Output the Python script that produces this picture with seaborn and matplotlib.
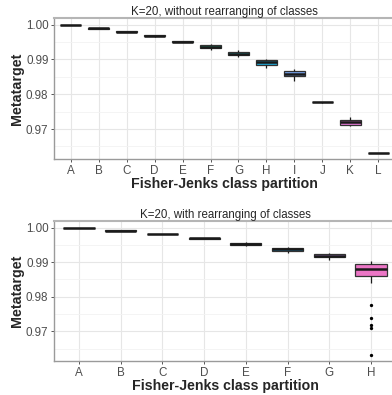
import numpy as np
import pandas as pd
import matplotlib
matplotlib.use("Agg")
import matplotlib.pyplot as plt
import seaborn as sns

# ---------------- data ----------------
top_classes = list("ABCDEFGHIJKL")
top_low    = [0.99977, 0.99880, 0.99788, 0.99652, 0.99488, 0.99260, 0.99075, 0.98760, 0.98370, 0.97762, 0.97075, 0.96319]
top_q1     = [0.99979, 0.99885, 0.99794, 0.99668, 0.99502, 0.99320, 0.99115, 0.98835, 0.98520, 0.97764, 0.97125, 0.96321]
top_median = [0.99981, 0.99890, 0.99800, 0.99680, 0.99515, 0.99365, 0.99170, 0.98920, 0.98590, 0.97765, 0.97200, 0.96322]
top_q3     = [0.99983, 0.99894, 0.99806, 0.99690, 0.99528, 0.99405, 0.99218, 0.98985, 0.98660, 0.97766, 0.97270, 0.96323]
top_high   = [0.99985, 0.99898, 0.99812, 0.99705, 0.99543, 0.99440, 0.99258, 0.99020, 0.98735, 0.97768, 0.97350, 0.96325]
top_palette = ["#F8766D", "#DE8C00", "#B79F00", "#7CAE00", "#00BA38", "#00C08B",
               "#00BFC4", "#00B4F0", "#619CFF", "#C77CFF", "#F564E3", "#FF64B0"]

bot_classes = list("ABCDEFGH")
bot_low    = [0.99984, 0.99905, 0.99800, 0.99675, 0.99460, 0.99250, 0.99075, 0.98382]
bot_q1     = [0.99986, 0.99908, 0.99805, 0.99683, 0.99485, 0.99330, 0.99135, 0.98593]
bot_median = [0.99988, 0.99913, 0.99812, 0.99691, 0.99523, 0.99367, 0.99191, 0.98795]
bot_q3     = [0.99990, 0.99918, 0.99820, 0.99700, 0.99545, 0.99405, 0.99235, 0.98948]
bot_high   = [0.99992, 0.99922, 0.99826, 0.99708, 0.99585, 0.99440, 0.99265, 0.99026]
bot_outlier_class = ["H", "H", "H", "H", "H"]
bot_outliers = [0.97763, 0.97370, 0.97185, 0.97098, 0.96318]
bot_palette = ["#F8766D", "#CD9600", "#7CAE00", "#00BE67", "#00BFC4", "#00A9FF", "#C77CFF", "#FF61CC"]

titles = ["K=20, without rearranging of classes", "K=20, with rearranging of classes"]
xlabel = "Fisher-Jenks class partition"
ylabel = "Metatarget"
yticks = [0.97, 0.98, 0.99, 1.00]
yticklabels = ["0.97", "0.98", "0.99", "1.00"]
yminor = [0.965, 0.975, 0.985, 0.995]


def long_table(classes, *cols):
    rows = []
    for i, c in enumerate(classes):
        for col in cols:
            rows.append((c, col[i]))
    return pd.DataFrame(rows, columns=["cls", "val"])


sns.set_theme(style="white")
plt.rcParams["font.family"] = ["Liberation Sans", "DejaVu Sans"]

fig = plt.figure(figsize=(3.92, 3.95), dpi=100)
W, H = 392, 395
ax_top = fig.add_axes([54 / W, 1 - 159 / H, (395 - 54) / W, 141 / H])
ax_bot = fig.add_axes([54 / W, 1 - 361 / H, (396 - 54) / W, 140 / H])

panels = [
    (ax_top, top_classes, (top_low, top_q1, top_median, top_q3, top_high), top_palette, None, None),
    (ax_bot, bot_classes, (bot_low, bot_q1, bot_median, bot_q3, bot_high), bot_palette,
     bot_outlier_class, bot_outliers),
]

for k, (ax, classes, cols, pal, ocls, ovals) in enumerate(panels):
    df = long_table(classes, *cols)
    ax.set_axisbelow(True)
    sns.boxplot(data=df, x="cls", y="val", hue="cls", order=classes, hue_order=classes,
                palette=pal, legend=False, whis=(0, 100), width=0.75,
                linecolor="#333333", linewidth=0.9, showfliers=False,
                medianprops=dict(color="#1a1a1a", linewidth=1.8),
                whiskerprops=dict(color="#1a1a1a", linewidth=0.9),
                capprops=dict(linewidth=0),
                ax=ax)
    if ovals is not None:
        sns.stripplot(x=ocls, y=ovals, order=classes, jitter=False, color="black",
                      size=2.4, linewidth=0, ax=ax)
    ax.set_xlim(-0.6, len(classes) - 0.4)
    ax.set_ylim(0.96140, 1.00190)
    ax.set_yticks(yticks)
    ax.set_yticklabels(yticklabels)
    ax.set_yticks(yminor, minor=True)
    ax.grid(True, which="major", color="#E6E6E6", linewidth=0.8)
    ax.grid(True, which="minor", axis="y", color="#F3F3F3", linewidth=0.6)
    for s in ax.spines.values():
        s.set_color("#9A9A9A")
        s.set_linewidth(1.0)
        s.set_visible(True)
    ax.spines["top"].set_color("#B5B5B5")
    ax.spines["top"].set_linewidth(1.5)
    ax.tick_params(axis="both", which="major", length=2.5, width=0.7, color="#555555",
                   labelsize=8.4, labelcolor="#4D4D4D", pad=1.5, bottom=True, left=True)
    ax.tick_params(axis="y", which="minor", length=0, left=False)
    ax.set_xlabel(xlabel, fontsize=10.2, fontweight="bold", labelpad=0.5)
    ax.set_ylabel(ylabel, fontsize=10.3, fontweight="bold", labelpad=1.5)
    ax.set_title(titles[k], fontsize=8.3, pad=2)

fig.savefig("out.png", dpi=100)
